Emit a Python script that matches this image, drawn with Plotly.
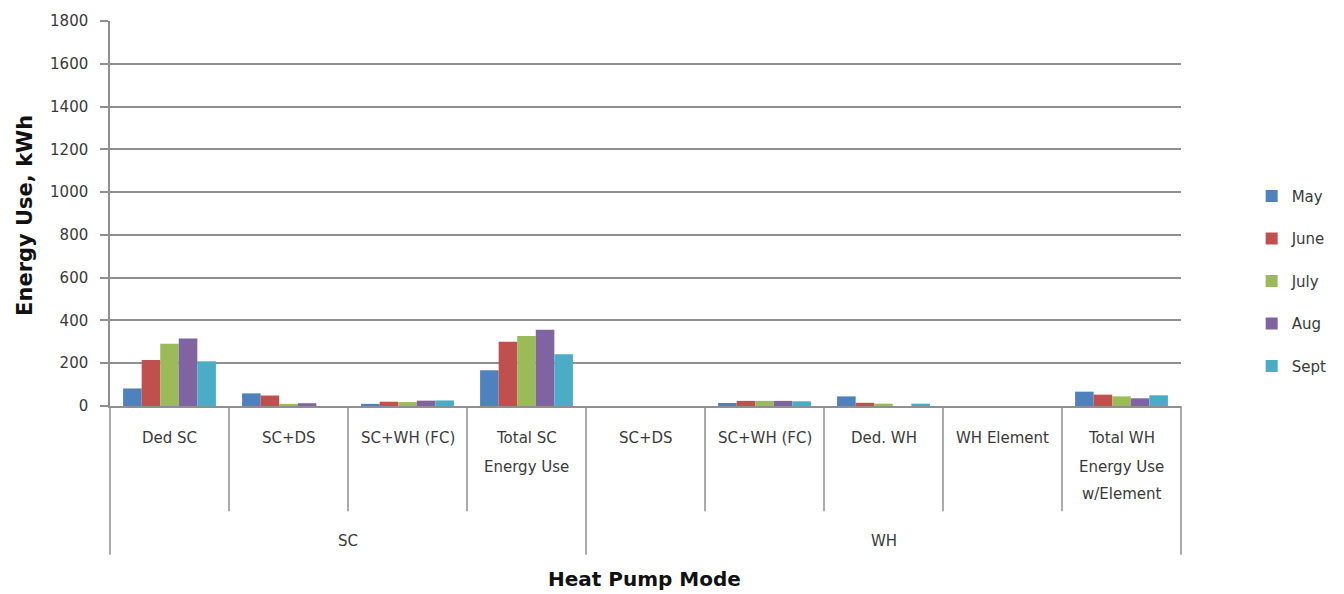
import plotly.graph_objects as go

# Heat pump operating modes, grouped by SC / WH
groups = ["SC", "SC", "SC", "SC", "WH", "WH", "WH", "WH", "WH"]
modes = ["Ded SC", "SC+DS", "SC+WH (FC)", "Total SC Energy Use",
         "SC+DS", "SC+WH (FC)", "Ded. WH", "WH Element",
         "Total WH Energy Use w/Element"]
# wrapped tick text for each mode
mode_lines = [["Ded SC"], ["SC+DS"], ["SC+WH (FC)"], ["Total SC", "Energy Use"],
              ["SC+DS"], ["SC+WH (FC)"], ["Ded. WH"], ["WH Element"],
              ["Total WH", "Energy Use", "w/Element"]]
group_names = ["SC", "WH"]

months = ["May", "June", "July", "Aug", "Sept"]
may = [82, 59, 10, 167, 0, 14, 45, 0, 67]
june = [215, 49, 20, 300, 0, 24, 15, 0, 53]
july = [291, 10, 18, 327, 0, 24, 11, 0, 45]
aug = [316, 13, 25, 356, 0, 24, 0, 0, 36]
sept = [209, 0, 26, 242, 0, 22, 11, 0, 50]
series = [may, june, july, aug, sept]
colors = ["#4F81BD", "#C0504D", "#9BBB59", "#8064A2", "#4BACC6"]

y_ticks = [0, 200, 400, 600, 800, 1000, 1200, 1400, 1600, 1800]

FONT = "DejaVu Sans"
TXT = "#3a3a3a"
GRID = "#8f8f8f"

W, H = 1344, 594
L, R, T, B = 110, 158, 18, 188
PW, PH = W - L - R, H - T - B


def py(pix):
    """pixel row -> paper y"""
    return (H - B - pix) / PH


def px(pix):
    """pixel column -> paper x"""
    return (pix - L) / PW


fig = go.Figure()
for name, vals, col in zip(months, series, colors):
    fig.add_trace(go.Bar(
        x=[groups, modes], y=vals, name=name, marker_color=col,
        marker_line_width=0, legendgroup=name,
    ))

n = len(modes)
shapes = []
annotations = []

# category dividers below the axis
for k in range(n + 1):
    is_group_edge = k in (0, 4, n)
    shapes.append(dict(
        type="line", xref="paper", yref="paper",
        x0=k / n, x1=k / n, y0=0, y1=py(556 if is_group_edge else 512),
        line=dict(color=GRID, width=1.5),
    ))

# mode labels
line_rows = [438, 467, 495]
for i, lines in enumerate(mode_lines):
    for j, ln in enumerate(lines):
        annotations.append(dict(
            text=ln, xref="paper", yref="paper", x=(i + 0.5) / n,
            y=py(line_rows[j]), xanchor="center", yanchor="middle",
            showarrow=False, font=dict(family=FONT, size=15, color=TXT),
        ))

# group labels
group_centers = [2 / n, 6.5 / n]
for g, cx in zip(group_names, group_centers):
    annotations.append(dict(
        text=g, xref="paper", yref="paper", x=cx, y=py(542),
        xanchor="center", yanchor="middle", showarrow=False,
        font=dict(family=FONT, size=15, color=TXT),
    ))

# axis titles
annotations.append(dict(
    text="<b>Heat Pump Mode</b>", xref="paper", yref="paper", x=px(647),
    y=py(580), xanchor="center", yanchor="middle", showarrow=False,
    font=dict(family=FONT, size=20, color="#111111"),
))
annotations.append(dict(
    text="<b>Energy Use, kWh</b>", xref="paper", yref="paper", x=px(25),
    y=py(214), xanchor="center", yanchor="middle", showarrow=False,
    textangle=-90, font=dict(family=FONT, size=21, color="#111111"),
))

fig.update_layout(
    width=W, height=H,
    margin=dict(l=L, r=R, t=T, b=B),
    paper_bgcolor="white", plot_bgcolor="white",
    barmode="group", bargap=0.22, bargroupgap=0,
    font=dict(family=FONT, size=15, color=TXT),
    showlegend=True,
    legend=dict(
        x=px(1257), y=py(178), xanchor="left", yanchor="top",
        traceorder="grouped", tracegroupgap=20,
        font=dict(family=FONT, size=15, color=TXT),
        bgcolor="rgba(0,0,0,0)",
    ),
    xaxis=dict(
        type="multicategory", showticklabels=False, showdividers=False,
        ticks="", showgrid=False, showline=True, linecolor=GRID,
        linewidth=1.5, zeroline=False,
    ),
    yaxis=dict(
        range=[0, 1800], tickvals=y_ticks, showgrid=True, gridcolor=GRID,
        gridwidth=1.5, showline=True, linecolor=GRID, linewidth=1.5,
        ticks="outside", ticklen=8, tickcolor=GRID, tickwidth=1.5,
        ticklabelstandoff=9, zeroline=False,
        tickfont=dict(family=FONT, size=15, color=TXT),
    ),
    shapes=shapes, annotations=annotations,
)

fig.write_html("out.html")
